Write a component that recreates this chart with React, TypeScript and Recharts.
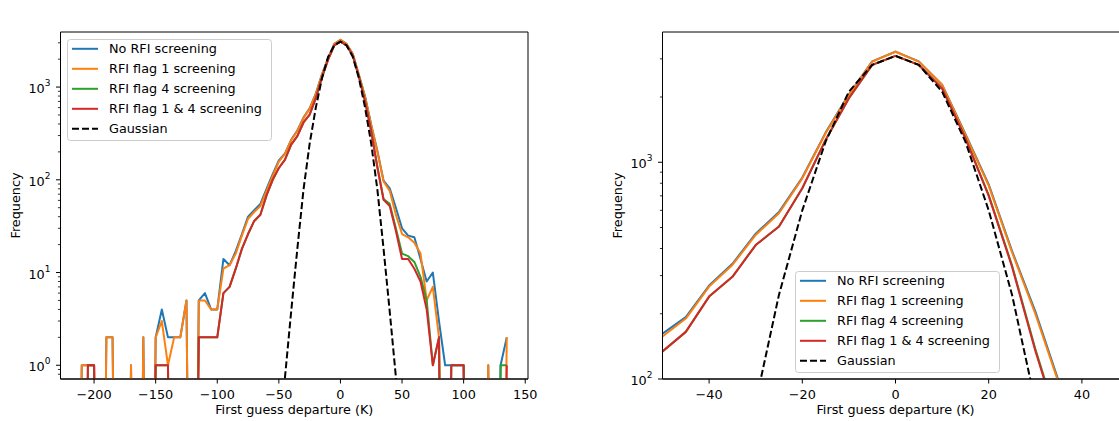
import React from 'react';
import { LineChart, Line, XAxis, YAxis, Legend, ReferenceArea } from 'recharts';

// ---------- data (bin centres, K) ----------
const departures = [
  -215, -210, -205, -200, -195, -190, -185, -180, -175, -170, -165, -160, -155, -150, -145, -140, -135, -130,
  -125, -120, -115, -110, -105, -100, -95, -90, -85, -80, -75, -70, -65, -60, -55, -50, -45, -40, -35, -30,
  -25, -20, -15, -10, -5, 0, 5, 10, 15, 20, 25, 30, 35, 40, 45, 50, 55, 60, 65, 70, 75, 80, 85, 90, 95, 100,
  105, 110, 115, 120, 125, 130, 135,
];

const noRfi = [
  0, 1, 1, 1, 0, 2, 2, 0, 0, 1, 0, 2, 0, 2, 4, 2, 2, 2,
  5, 0, 5, 6, 4, 4, 14, 12, 17, 26, 40, 47, 55, 80, 115, 162, 193, 270, 340, 468,
  590, 850, 1370, 2060, 2920, 3240, 2920, 2280, 1350, 790, 390, 205, 98, 81, 50, 30, 25, 24, 14, 8, 10, 3, 1, 1, 1, 1,
  0, 0, 0, 1, 0, 1, 2,
];

const flag1 = [
  0, 1, 1, 1, 0, 2, 2, 0, 0, 1, 0, 2, 0, 2, 3, 1, 2, 2,
  5, 0, 5, 5, 4, 4, 11, 12, 16, 25, 38, 45, 52, 76, 110, 157, 190, 267, 336, 462,
  582, 843, 1361, 2046, 2912, 3236, 2912, 2277, 1340, 780, 385, 200, 96, 76, 42, 26, 24, 21, 16, 5, 7, 2, 0, 0, 0, 0,
  0, 0, 0, 1, 0, 0, 2,
];

const flag4 = [
  0, 0, 1, 1, 0, 0, 0, 0, 0, 0, 0, 0, 0, 1, 1, 1, 0, 0,
  0, 0, 2, 2, 2, 2, 6, 7, 11, 18, 26, 36, 42, 68, 100, 134, 165, 240, 296, 415,
  505, 759, 1268, 1974, 2812, 3095, 2812, 2193, 1295, 705, 335, 138, 62, 55, 30, 16, 15, 13, 9, 5, 1, 2, 0, 1, 1, 1,
  0, 0, 0, 0, 0, 1, 1,
];

const flag14 = [
  0, 0, 1, 1, 0, 0, 0, 0, 0, 0, 0, 0, 0, 1, 1, 1, 0, 0,
  0, 0, 2, 2, 2, 2, 6, 7, 11, 18, 26, 36, 42, 68, 100, 134, 165, 240, 296, 415,
  505, 759, 1268, 1974, 2812, 3095, 2812, 2193, 1290, 700, 330, 135, 61, 52, 28, 14, 14, 11, 8, 4, 1, 2, 0, 1, 1, 1,
  0, 0, 0, 0, 0, 0, 1,
];

const gaussianX = [-50, -45, -40, -35, -30, -25, -20, -15, -10, -5, 0, 5, 10, 15, 20, 25, 30, 35, 40, 45, 50];
const gaussianY = [0.1, 0.75, 3.8, 18, 78, 245, 600, 1245, 2118, 2812, 3095, 2812, 2118, 1245, 600, 245, 78, 18, 3.8, 0.75, 0.1];

const leftXTicks = [-200, -150, -100, -50, 0, 50, 100, 150];
const rightXTicks = [-40, -20, 0, 20, 40];
const leftYTicks = [
  0.8, 0.9, 1, 2, 3, 4, 5, 6, 7, 8, 9, 10, 20, 30, 40, 50, 60, 70, 80, 90,
  100, 200, 300, 400, 500, 600, 700, 800, 900, 1000, 2000, 3000,
];
const rightYTicks = [100, 200, 300, 400, 500, 600, 700, 800, 900, 1000, 2000, 3000];

const TITLE = 'Histogram of first guess departures over land for SMOS';
const X_LABEL = 'First guess departure (K)';
const Y_LABEL = 'Frequency';

const SERIES = [
  { key: 'noRfi', name: 'No RFI screening', color: '#1f77b4', dash: undefined as string | undefined },
  { key: 'flag1', name: 'RFI flag 1 screening', color: '#ff7f0e', dash: undefined },
  { key: 'flag4', name: 'RFI flag 4 screening', color: '#2ca02c', dash: undefined },
  { key: 'flag14', name: 'RFI flag 1 & 4 screening', color: '#d62728', dash: undefined },
  { key: 'gauss', name: 'Gaussian', color: '#000000', dash: '7 3' },
];

// empty bins are clipped to a tiny positive value (like matplotlib's log "clip")
const FLOOR = 1e-6;
const pos = (v: number | null | undefined) => (v == null ? null : v > 0 ? v : FLOOR);

const data = departures.map((x, i) => {
  const gi = gaussianX.indexOf(x);
  return {
    x,
    noRfi: pos(noRfi[i]),
    flag1: pos(flag1[i]),
    flag4: pos(flag4[i]),
    flag14: pos(flag14[i]),
    gauss: gi >= 0 ? pos(gaussianY[gi]) : null,
  };
});

// ---------- styling helpers ----------
const FONT = "'DejaVu Sans', 'Liberation Sans', sans-serif";
const TICK_FS = 12.8;

const fmtX = (v: number) => (v < 0 ? '\u2212' + Math.abs(v) : String(v));

const XTick = (props: any) => {
  const { x, y, payload } = props;
  return (
    <g>
      <line x1={x} x2={x} y1={y} y2={y + 4.5} stroke="#000" strokeWidth={1} />
      <text x={x} y={y + 20} textAnchor="middle" fontFamily={FONT} fontSize={TICK_FS} fill="#000">
        {fmtX(payload.value)}
      </text>
    </g>
  );
};

const YTick = (props: any) => {
  const { x, y, payload } = props;
  const lg = Math.log10(payload.value);
  const e = Math.round(lg);
  const major = Math.abs(lg - e) < 1e-9;
  if (!major) {
    return <line x1={x - 2.6} x2={x} y1={y} y2={y} stroke="#000" strokeWidth={0.8} />;
  }
  return (
    <g>
      <line x1={x - 4.5} x2={x} y1={y} y2={y} stroke="#000" strokeWidth={1} />
      <text x={x - 10} y={y + 6} textAnchor="end" fontFamily={FONT} fontSize={TICK_FS} fill="#000">
        <tspan>10</tspan>
        <tspan fontSize={9} dy={-7}>{String(e)}</tspan>
      </text>
    </g>
  );
};

const LegendBox = () => (
  <svg width={206} height={103} style={{ display: 'block', overflow: 'visible' }}>
    <rect x={0.5} y={0.5} width={204} height={101} rx={3} ry={3} fill="rgba(255,255,255,0.8)" stroke="#cccccc" strokeWidth={1} />
    {SERIES.map((s, i) => {
      const cy = 9.8 + 20 * i;
      return (
        <g key={s.key}>
          <line x1={5} x2={31} y1={cy} y2={cy} stroke={s.color} strokeWidth={2} strokeDasharray={s.dash} />
          <text x={42} y={cy + 4.6} fontFamily={FONT} fontSize={TICK_FS} fill="#000">
            {s.name}
          </text>
        </g>
      );
    })}
  </svg>
);

type PanelProps = {
  width: number;
  marginRight: number;
  yAxisWidth: number;
  xDomain: [number, number];
  xTicks: number[];
  yDomain: [number, number];
  yTicks: number[];
  legendLeft: number;
  legendTop: number;
};

const Panel = (p: PanelProps) => (
  <LineChart
    width={p.width}
    height={421}
    data={data}
    margin={{ top: 32, right: p.marginRight, bottom: 0, left: 0 }}
    style={{ fontFamily: FONT }}
  >
    <XAxis
      dataKey="x"
      type="number"
      domain={p.xDomain}
      allowDataOverflow
      ticks={p.xTicks}
      interval={0}
      height={42}
      tickSize={0}
      tickMargin={0}
      tickLine={false}
      axisLine={{ stroke: '#000', strokeWidth: 1 }}
      tick={<XTick />}
      label={(lp: any) => {
        const vb = lp.viewBox;
        return (
          <text x={vb.x + vb.width / 2} y={vb.y + 35} textAnchor="middle" fontFamily={FONT} fontSize={TICK_FS} fill="#000">
            {X_LABEL}
          </text>
        );
      }}
    />
    <XAxis
      xAxisId="top"
      orientation="top"
      dataKey="x"
      type="number"
      domain={p.xDomain}
      allowDataOverflow
      height={0}
      tick={false}
      tickLine={false}
      axisLine={false}
      label={(lp: any) => {
        const vb = lp.viewBox;
        return (
          <text x={vb.x + vb.width / 2} y={23} textAnchor="middle" fontFamily={FONT} fontSize={15.5} fill="#000">
            {TITLE}
          </text>
        );
      }}
    />
    <YAxis
      scale="log"
      type="number"
      domain={p.yDomain}
      allowDataOverflow
      ticks={p.yTicks}
      interval={0}
      width={p.yAxisWidth}
      tickSize={0}
      tickMargin={0}
      tickLine={false}
      axisLine={{ stroke: '#000', strokeWidth: 1 }}
      tick={<YTick />}
      label={(lp: any) => {
        const vb = lp.viewBox;
        const lx = vb.x + vb.width - 41;
        const ly = vb.y + vb.height / 2;
        return (
          <text
            x={lx}
            y={ly}
            transform={`rotate(-90, ${lx}, ${ly})`}
            textAnchor="middle"
            fontFamily={FONT}
            fontSize={TICK_FS}
            fill="#000"
          >
            {Y_LABEL}
          </text>
        );
      }}
    />
    {SERIES.map((s) => (
      <Line
        key={s.key}
        dataKey={s.key}
        name={s.name}
        type="linear"
        stroke={s.color}
        strokeWidth={2}
        strokeDasharray={s.dash}
        dot={false}
        activeDot={false}
        isAnimationActive={false}
        strokeLinejoin="round"
      />
    ))}
    {/* axes frame (spines) */}
    <ReferenceArea
      x1={p.xDomain[0]}
      x2={p.xDomain[1]}
      y1={p.yDomain[0]}
      y2={p.yDomain[1]}
      fill="none"
      fillOpacity={0}
      stroke="#000"
      strokeWidth={1}
      strokeOpacity={1}
      ifOverflow="visible"
    />
    <Legend
      layout="vertical"
      align="center"
      verticalAlign="middle"
      content={() => <LegendBox />}
      wrapperStyle={{ left: p.legendLeft, top: p.legendTop, width: 206, height: 103, margin: 0, padding: 0, lineHeight: 0 }}
    />
  </LineChart>
);

export default function App() {
  return (
    <div
      style={{
        position: 'fixed',
        left: 0,
        top: 0,
        width: 1119,
        height: 421,
        overflow: 'hidden',
        background: '#fff',
      }}
    >
      <div style={{ position: 'absolute', left: 0, top: 0 }}>
        <Panel
          width={560}
          marginRight={32}
          yAxisWidth={60.5}
          xDomain={[-227.25, 152.25]}
          xTicks={leftXTicks}
          yDomain={[0.711, 3925]}
          yTicks={leftYTicks}
          legendLeft={66.5}
          legendTop={38.5}
        />
      </div>
      <div style={{ position: 'absolute', left: 560, top: 0 }}>
        <Panel
          width={580}
          marginRight={11.5}
          yAxisWidth={102.5}
          xDomain={[-50, 50]}
          xTicks={rightXTicks}
          yDomain={[100, 3990]}
          yTicks={rightYTicks}
          legendLeft={234.5}
          legendTop={270.5}
        />
      </div>
    </div>
  );
}
